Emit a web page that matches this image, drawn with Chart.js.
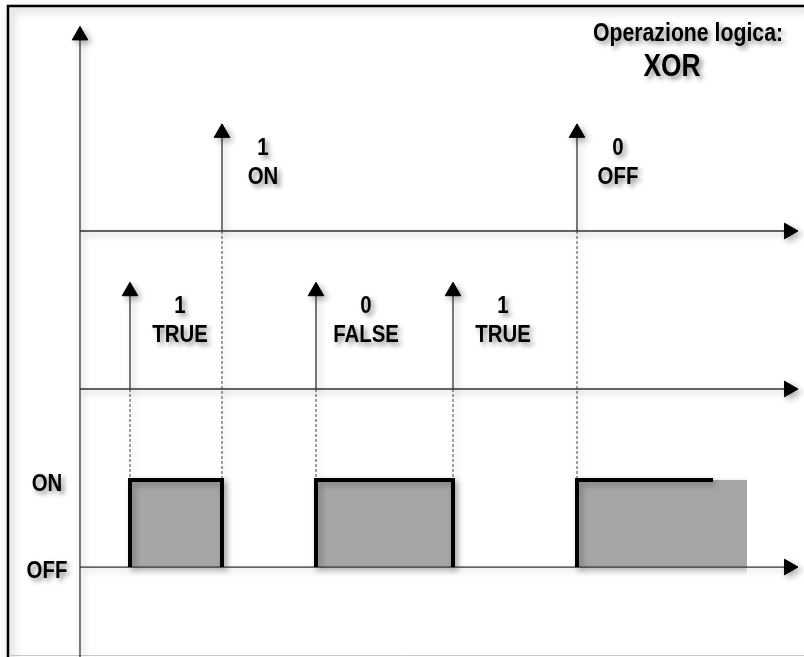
<!DOCTYPE html>
<html>
<head>
<meta charset="utf-8">
<script src="https://cdn.jsdelivr.net/npm/chart.js@4/dist/chart.umd.min.js"></script>
<style>
  html, body { margin: 0; padding: 0; background: #fff; }
  canvas { display: block; }
</style>
</head>
<body>
<canvas id="xorChart" width="804" height="657"></canvas>
<script>
// switching instants (time units along the horizontal axis)
const inputAEvents = [222, 577];
const inputALabels = [['1', 'ON'], ['0', 'OFF']];
const inputBEvents = [130, 316, 453];
const inputBLabels = [['1', 'TRUE'], ['0', 'FALSE'], ['1', 'TRUE']];

// output pulses (XOR result)
const pulseStart = [130, 316, 577];
const pulseEnd = [222, 453, 747];
const outlineEnd = [222, 453, 713];
const outlineClosed = [true, true, false];

// logic levels
const levelLabels = ['OFF', 'ON'];
const levelValues = [0, 1];

const titleLines = ['Operazione logica:', 'XOR'];

// geometry of the diagram in axis units
const tMin = 0, tMax = 804;
const yMin = -1.034, yMax = 6.517;
const tOrigin = 80, tArrow = 789;
const rowA = 3.862, rowB = 2.046;
const rowATip = 4.99, rowBTip = 3.17, yAxisTip = 6.11;

// no condensed face installed, so the bold sans is squeezed horizontally
const FONT = '"Liberation Sans", Arial, sans-serif';
const SQUEEZE = 0.85;

function arrow(points, rotation) {
  return {
    type: 'line',
    data: points,
    borderColor: '#333',
    borderWidth: 1.3,
    pointRadius: points.map((p, i) => (i === points.length - 1 ? 9 : 0)),
    pointStyle: 'triangle',
    pointRotation: rotation,
    pointBackgroundColor: '#000',
    pointBorderColor: '#000',
    pointBorderWidth: 1,
    fill: false,
    order: 3
  };
}

function dashed(t, from) {
  return {
    type: 'line',
    data: [{ x: t, y: from }, { x: t, y: levelValues[1] }],
    borderColor: '#444',
    borderWidth: 1,
    borderDash: [3, 2],
    pointRadius: 0,
    fill: false,
    order: 5
  };
}

const datasets = [];

// gray body of the output pulses
const fillPts = [];
pulseStart.forEach((s, i) => {
  fillPts.push({ x: s, y: 0 }, { x: s, y: 1 }, { x: pulseEnd[i], y: 1 }, { x: pulseEnd[i], y: 0 });
});
datasets.push({
  type: 'line',
  data: fillPts,
  borderWidth: 0,
  borderColor: 'rgba(0,0,0,0)',
  backgroundColor: '#a6a6a6',
  pointRadius: 0,
  fill: 'origin',
  order: 10
});

// black outline of the pulses
pulseStart.forEach((s, i) => {
  const pts = [{ x: s, y: 0 }, { x: s, y: 1 }, { x: outlineEnd[i], y: 1 }];
  if (outlineClosed[i]) pts.push({ x: outlineEnd[i], y: 0 });
  datasets.push({
    type: 'line',
    data: pts,
    borderColor: '#000',
    borderWidth: 4,
    borderJoinStyle: 'miter',
    pointRadius: 0,
    fill: false,
    order: 1
  });
});

// dashed guides from the inputs down to the output
inputAEvents.forEach(t => datasets.push(dashed(t, rowA)));
inputBEvents.forEach(t => datasets.push(dashed(t, rowB)));

// axes
datasets.push(arrow([{ x: tOrigin, y: yMin }, { x: tOrigin, y: yAxisTip }], 0));
datasets.push(arrow([{ x: tOrigin, y: rowA }, { x: tArrow, y: rowA }], 90));
datasets.push(arrow([{ x: tOrigin, y: rowB }, { x: tArrow, y: rowB }], 90));
datasets.push(arrow([{ x: tOrigin, y: levelValues[0] }, { x: tArrow, y: levelValues[0] }], 90));

// input arrows
inputAEvents.forEach(t => datasets.push(arrow([{ x: t, y: rowA }, { x: t, y: rowATip }], 0)));
inputBEvents.forEach(t => datasets.push(arrow([{ x: t, y: rowB }, { x: t, y: rowBTip }], 0)));

function setShadow(ctx, blur, off, alpha) {
  ctx.shadowColor = 'rgba(0,0,0,' + alpha + ')';
  ctx.shadowBlur = blur;
  ctx.shadowOffsetX = off;
  ctx.shadowOffsetY = off;
}

function narrowText(ctx, text, x, y) {
  ctx.save();
  ctx.translate(x, y);
  ctx.scale(SQUEEZE, 1);
  ctx.fillText(text, 0, 0);
  ctx.restore();
}

const diagramPlugin = {
  id: 'diagram',
  beforeDraw(chart) {
    const ctx = chart.ctx;
    ctx.save();
    ctx.fillStyle = '#fff';
    ctx.fillRect(0, 0, chart.width, chart.height);
    // frame
    setShadow(ctx, 8, 3, 0.35);
    ctx.strokeStyle = '#000';
    ctx.lineWidth = 2.5;
    ctx.beginPath();
    ctx.moveTo(8, chart.height + 5);
    ctx.lineTo(8, 6);
    ctx.lineTo(chart.width + 5, 6);
    ctx.stroke();
    ctx.restore();
    ctx.save();
    ctx.strokeStyle = '#c8c8c8';
    ctx.lineWidth = 1;
    ctx.beginPath();
    ctx.moveTo(9, chart.height - 1.5);
    ctx.lineTo(chart.width, chart.height - 1.5);
    ctx.stroke();
    ctx.restore();
  },
  beforeDatasetsDraw(chart) {
    const ctx = chart.ctx;
    ctx.save();
    setShadow(ctx, 6, 3, 0.3);
  },
  afterDatasetsDraw(chart) {
    const ctx = chart.ctx;
    ctx.restore();
    const xs = chart.scales.x, ys = chart.scales.y;
    ctx.save();
    setShadow(ctx, 5, 3, 0.45);
    ctx.fillStyle = '#000';
    ctx.textAlign = 'center';
    ctx.textBaseline = 'middle';
    ctx.font = 'bold 24px ' + FONT;

    const drawPair = (t, row, pair, shift) => {
      const x = xs.getPixelForValue(t + shift);
      narrowText(ctx, pair[0], x, ys.getPixelForValue(row + 0.95));
      narrowText(ctx, pair[1], x, ys.getPixelForValue(row + 0.62));
    };
    inputAEvents.forEach((t, i) => drawPair(t, rowA, inputALabels[i], 41));
    inputBEvents.forEach((t, i) => drawPair(t, rowB, inputBLabels[i], 50));

    levelValues.forEach((v, i) => {
      narrowText(ctx, levelLabels[i], xs.getPixelForValue(47), ys.getPixelForValue(v) + 4);
    });

    ctx.font = 'bold 25px ' + FONT;
    narrowText(ctx, titleLines[0], 688, 34);
    ctx.font = 'bold 31px ' + FONT;
    narrowText(ctx, titleLines[1], 672, 67);
    ctx.restore();
  }
};

new Chart(document.getElementById('xorChart').getContext('2d'), {
  type: 'scatter',
  data: { datasets },
  options: {
    responsive: false,
    animation: false,
    events: [],
    layout: { padding: 0, autoPadding: false },
    clip: false,
    plugins: {
      legend: { display: false },
      tooltip: { enabled: false }
    },
    elements: { line: { tension: 0 } },
    scales: {
      x: { type: 'linear', min: tMin, max: tMax, display: false },
      y: { type: 'linear', min: yMin, max: yMax, display: false }
    }
  },
  plugins: [diagramPlugin]
});
</script>
</body>
</html>
